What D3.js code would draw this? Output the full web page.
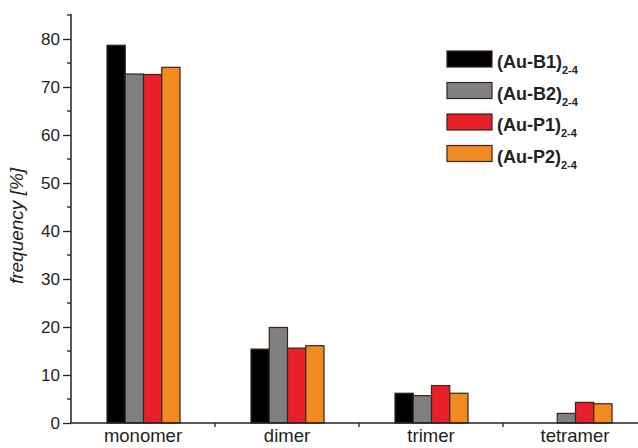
<!DOCTYPE html>
<html>
<head>
<meta charset="utf-8">
<script src="https://cdn.jsdelivr.net/npm/d3@7"></script>
<style>
  body { margin: 0; background: #fff; }
  text { font-family: Arial, "Liberation Sans", sans-serif; }
</style>
</head>
<body>
<div id="chart"></div>
<script>
// data
const categories = ["monomer", "dimer", "trimer", "tetramer"];
const seriesNames = ["(Au-B1)", "(Au-B2)", "(Au-P1)", "(Au-P2)"];
const seriesColors = ["#000000", "#808080", "#e8202a", "#f28a22"];
const valsB1 = [78.7, 15.4, 6.2, 0];
const valsB2 = [72.7, 19.9, 5.7, 2.0];
const valsP1 = [72.6, 15.6, 7.8, 4.3];
const valsP2 = [74.1, 16.1, 6.2, 4.0];
const yTicks = [0, 10, 20, 30, 40, 50, 60, 70, 80];

const allVals = [valsB1, valsB2, valsP1, valsP2];

const width = 638, height = 448;
const svg = d3.select("#chart").append("svg")
    .attr("width", width)
    .attr("height", height);

const x0 = 71, yBase = 423;

// scales
let x = d3.scaleBand()
    .domain(categories)
    .range([x0, x0 + 144 * 4])
    .paddingInner(0)
    .paddingOuter(0);

let xSub = d3.scaleBand()
    .domain(seriesNames)
    .range([x.bandwidth() * 0.25, x.bandwidth() * 0.757]);

let y = d3.scaleLinear()
    .domain([0, 80])
    .range([yBase, 39]);

// bars
categories.forEach(function(cat, ci) {
    let g = svg.append("g").attr("transform", `translate(${x(cat)},0)`);
    g.selectAll("rect")
        .data(seriesNames.map((s, si) => ({s: s, v: allVals[si][ci], c: seriesColors[si]})))
        .enter()
        .append("rect")
        .filter(d => d.v > 0)
        .attr("x", d => xSub(d.s))
        .attr("width", xSub.bandwidth())
        .attr("y", d => y(d.v))
        .attr("height", d => yBase - y(d.v))
        .attr("fill", d => d.c)
        .attr("stroke", "#3a2418")
        .attr("stroke-width", 1.2);
});

// y axis
let yAxis = d3.axisLeft(y)
    .tickValues(yTicks)
    .tickSize(8)
    .tickPadding(3);
let gy = svg.append("g")
    .attr("transform", `translate(${x0},0)`)
    .call(yAxis);
gy.select(".domain").remove();
gy.selectAll("text").attr("font-size", 17).attr("fill", "#222");
gy.selectAll("line").attr("stroke", "#222").attr("stroke-width", 1.3);

// minor ticks
svg.append("g").selectAll("line")
    .data(yTicks.map(t => t + 5))
    .enter().append("line")
    .attr("x1", x0 - 4).attr("x2", x0)
    .attr("y1", d => y(d)).attr("y2", d => y(d))
    .attr("stroke", "#222").attr("stroke-width", 1.3);

// axis lines
svg.append("line")
    .attr("x1", x0).attr("x2", x0)
    .attr("y1", 14).attr("y2", yBase)
    .attr("stroke", "#222").attr("stroke-width", 1.5);
svg.append("line")
    .attr("x1", x0).attr("x2", width)
    .attr("y1", yBase).attr("y2", yBase)
    .attr("stroke", "#222").attr("stroke-width", 1.5);

// x ticks between groups
svg.append("g").selectAll("line")
    .data(categories.slice(1))
    .enter().append("line")
    .attr("x1", d => x(d)).attr("x2", d => x(d))
    .attr("y1", yBase).attr("y2", yBase + 4)
    .attr("stroke", "#222").attr("stroke-width", 1.3);

// x labels
svg.append("g").selectAll("text")
    .data(categories)
    .enter().append("text")
    .attr("x", d => x(d) + x.bandwidth() / 2)
    .attr("y", 442)
    .attr("text-anchor", "middle")
    .attr("font-size", 18.5)
    .attr("fill", "#222")
    .text(d => d);

// y label
svg.append("text")
    .attr("transform", "translate(23,226) rotate(-90)")
    .attr("text-anchor", "middle")
    .attr("font-size", 19)
    .attr("font-style", "italic")
    .attr("fill", "#222")
    .text("frequency [%]");

// legend
let legend = svg.append("g").attr("transform", "translate(447,51)");
let items = legend.selectAll("g")
    .data(seriesNames)
    .enter().append("g")
    .attr("transform", (d, i) => `translate(0,${i * 31.5})`);
items.append("rect")
    .attr("width", 45).attr("height", 16)
    .attr("fill", (d, i) => seriesColors[i])
    .attr("stroke", "#3a2418").attr("stroke-width", 1.2);
let lt = items.append("text")
    .attr("x", 50).attr("y", 17)
    .attr("font-size", 18)
    .attr("font-weight", "bold")
    .attr("fill", "#222");
lt.append("tspan").text(d => d);
lt.append("tspan")
    .attr("dy", 6)
    .attr("font-size", 11)
    .text("2-4");
</script>
</body>
</html>
